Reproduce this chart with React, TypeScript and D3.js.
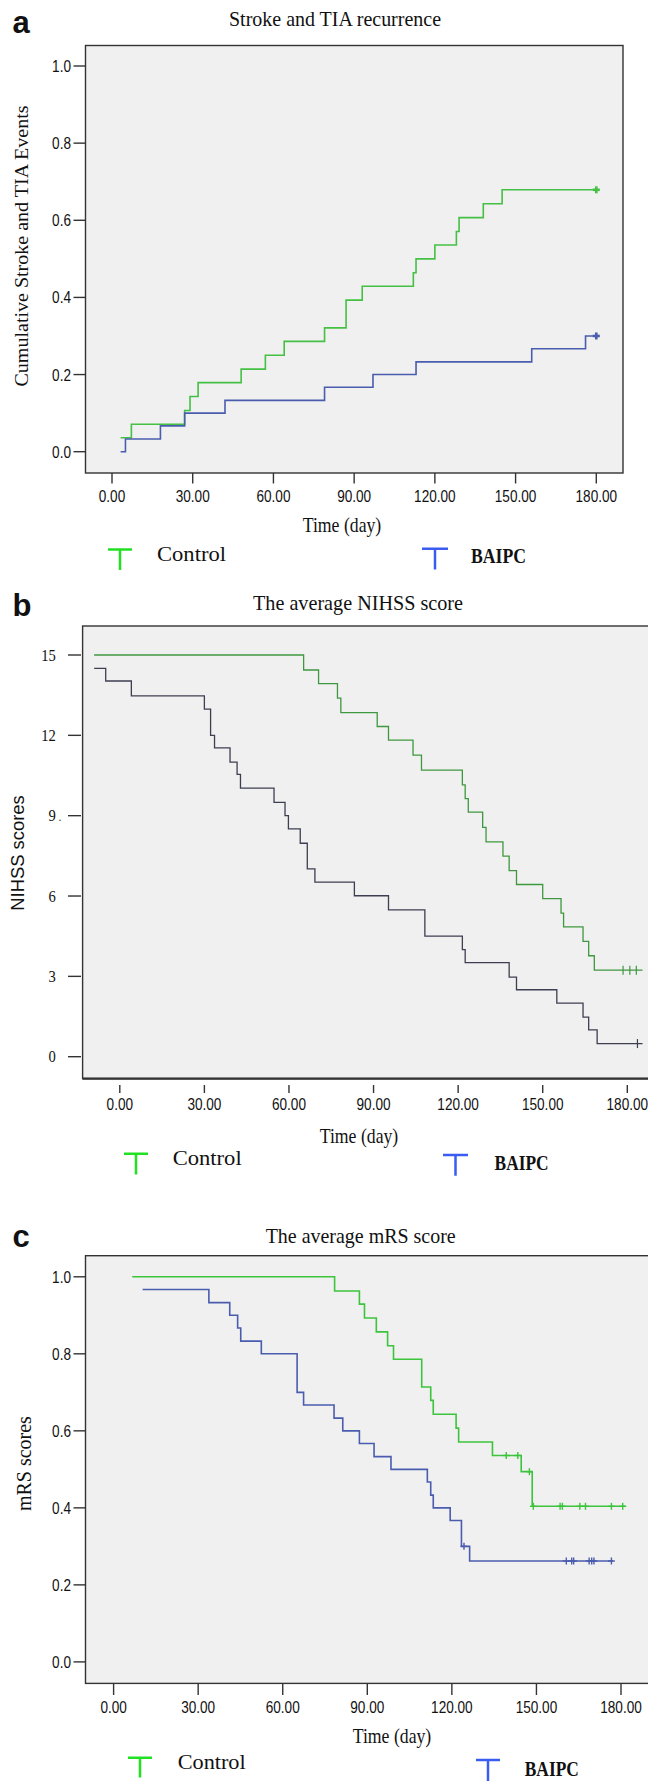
import React from 'react';
import * as d3 from 'd3';

// ---- panel a : Stroke and TIA recurrence (cumulative events) ----
const aTicksY = [0, 0.2, 0.4, 0.6, 0.8, 1.0];
const aControlDays = [3.2, 7.2, 27, 29, 32, 48, 57, 64, 79, 87, 93, 112, 113, 120, 128, 129, 138, 145];
const aControlVals = [0.036, 0.071, 0.107, 0.143, 0.179, 0.214, 0.25, 0.286, 0.321, 0.393, 0.429, 0.464, 0.5, 0.536, 0.571, 0.607, 0.643, 0.679];
const aControlCensor = [180];
const aBaipcDays = [3.2, 5, 18, 27, 42, 79, 97, 113, 156, 176];
const aBaipcVals = [0, 0.033, 0.067, 0.1, 0.133, 0.167, 0.2, 0.233, 0.267, 0.3];
const aBaipcCensor = [180];

// ---- panel b : The average NIHSS score ----
const bTicksY = [0, 3, 6, 9, 12, 15];
const bControlDays = [-9.1, 65.2, 70.5, 77.2, 78.4, 91.3, 95.3, 104, 107, 121.5, 122.5, 123.6, 128.7, 129.9, 135.9, 138.1, 140.7, 150, 156.5, 157.4, 164.3, 166.3, 168.3];
const bControlVals = [15, 14.44, 13.93, 13.39, 12.85, 12.33, 11.82, 11.26, 10.7, 10.15, 9.64, 9.13, 8.56, 8.02, 7.49, 6.95, 6.43, 5.9, 5.36, 4.85, 4.31, 3.77, 3.23];
const bControlCensor = [178.5, 180.9, 183.2];
const bBaipcDays = [-9.1, -5, 4.1, 30, 32.2, 33.6, 39.1, 41.6, 42.8, 54.7, 58.6, 59.8, 64, 66.5, 69.2, 83.2, 95.3, 108.2, 121.5, 122.5, 138.1, 140.7, 155, 164.3, 166.3, 169.3];
const bBaipcVals = [14.5, 14.03, 13.47, 12.98, 12.0, 11.53, 11.0, 10.54, 10.03, 9.5, 9.0, 8.51, 7.97, 7.01, 6.52, 6.01, 5.48, 4.5, 4.0, 3.51, 2.97, 2.5, 2.0, 1.48, 1.0, 0.49];
const bBaipcCensor = [183.6];

// ---- panel c : The average mRS score ----
const cTicksY = [0, 0.2, 0.4, 0.6, 0.8, 1.0];
const cControlDays = [6.6, 78.4, 87.2, 89, 93.2, 97.2, 99.3, 109.3, 112.5, 113.4, 121.5, 122.4, 134.4, 144.6, 148.5];
const cControlVals = [1.0, 0.963, 0.929, 0.893, 0.857, 0.821, 0.786, 0.714, 0.679, 0.643, 0.607, 0.571, 0.536, 0.494, 0.404];
const cControlCensor = [139.3, 143.4, 147.5, 148.9, 158.4, 159.2, 165.4, 167.4, 176.6, 180.6];
const cBaipcDays = [10.3, 33.8, 41.2, 44, 45.1, 52.4, 65.1, 67.4, 78.2, 81.3, 87.2, 92.4, 98.4, 111.3, 112.5, 113.4, 119.4, 123.4, 126.3];
const cBaipcVals = [0.967, 0.933, 0.9, 0.867, 0.833, 0.8, 0.7, 0.667, 0.633, 0.6, 0.567, 0.533, 0.5, 0.467, 0.433, 0.4, 0.367, 0.3, 0.262];
const cBaipcCensor = [124.3, 160.6, 162.5, 163.2, 168.7, 169.6, 170.4, 176.6];

const xTicks = [0, 30, 60, 90, 120, 150, 180];
const legendNames = ['Control', 'BAIPC'];

const SANS = '"Liberation Sans", Arial, sans-serif';
const SERIF = '"Liberation Serif", "Times New Roman", serif';

function stepValue(days, vals, t) {
  let v = vals[0];
  days.forEach((d, i) => { if (d <= t) v = vals[i]; });
  return v;
}

function Panel({ cfg }) {
  const x = d3.scaleLinear().domain([0, 180]).range(cfg.xRange);
  const y = d3.scaleLinear().domain(cfg.yDomain).range(cfg.yRange);
  const line = d3.line().x(d => x(d[0])).y(d => y(d[1])).curve(d3.curveStepAfter);
  const f = cfg.frame;

  return (
    <g>
      <text x={12.4} y={cfg.letterY} fontFamily={SANS} fontWeight="bold" fontSize={31} fill="#111">{cfg.letter}</text>
      <text x={cfg.title.x} y={cfg.title.y} textAnchor="middle" fontFamily={SERIF} fontSize={21}
        textLength={cfg.title.w} lengthAdjust="spacingAndGlyphs" fill="#111">{cfg.title.text}</text>

      <rect x={f.l} y={f.t} width={f.r - f.l} height={f.b - f.t} fill="#f0f0f0" stroke="#333" strokeWidth={1.4} />
      {cfg.thickBottom && <line x1={f.l} x2={f.r} y1={f.b} y2={f.b} stroke="#333" strokeWidth={2.4} />}

      {/* y axis */}
      {cfg.yTicks.map(t => (
        <g key={'y' + t}>
          <line x1={cfg.yTickX[0]} x2={cfg.yTickX[1]} y1={y(t)} y2={y(t)} stroke="#333" strokeWidth={1.4} />
          <text transform={`translate(${cfg.yLabelX},${y(t) + cfg.yLabelDy}) scale(${cfg.yLabelSx},1)`}
            textAnchor="end" fontFamily={cfg.yLabelFont} fontSize={17} fill="#111">
            {cfg.yFormat(t)}
          </text>
        </g>
      ))}
      {cfg.stray && <text x={cfg.stray.x} y={cfg.stray.y} fontFamily={SERIF} fontSize={12} fill="#444">.</text>}

      {/* x axis */}
      {xTicks.map(t => (
        <g key={'x' + t}>
          <line x1={x(t)} x2={x(t)} y1={cfg.xTickY[0]} y2={cfg.xTickY[1]} stroke="#333" strokeWidth={1.4} />
          <text transform={`translate(${x(t)},${cfg.xLabelY}) scale(0.8,1)`} textAnchor="middle"
            fontFamily={SANS} fontSize={17} fill="#111">{d3.format('.2f')(t)}</text>
        </g>
      ))}
      <text x={cfg.xTitle.x} y={cfg.xTitle.y} textAnchor="middle" fontFamily={SERIF} fontSize={21}
        textLength={78.5} lengthAdjust="spacingAndGlyphs" fill="#111">Time (day)</text>
      <text transform={`translate(${cfg.yTitle.x},${cfg.yTitle.y}) rotate(-90)`} textAnchor="middle"
        fontFamily={cfg.yTitle.font} fontSize={cfg.yTitle.size} textLength={cfg.yTitle.w}
        lengthAdjust="spacingAndGlyphs" fill="#111">{cfg.yTitle.text}</text>

      {/* survival steps */}
      {cfg.series.map((s, i) => {
        const pts = s.days.map((d, k) => [d, s.vals[k]]);
        pts.push([s.end, s.vals[s.vals.length - 1]]);
        return (
          <g key={'s' + i}>
            <path d={line(pts)} fill="none" stroke={s.color} strokeWidth={s.width} />
            {s.censor.map((c, k) => {
              const cx = x(c), cy = y(stepValue(s.days, s.vals, c));
              if (cfg.censorStyle === 'tick')
                return <line key={k} x1={cx} x2={cx} y1={cy - 4.5} y2={cy + 4.5} stroke={s.color} strokeWidth={1.2} />;
              const r = 3.5;
              const w = cfg.censorStyle === 'bold' ? 2.6 : 1.4;
              return (
                <g key={k} stroke={s.color} strokeWidth={w}>
                  <line x1={cx - r} x2={cx + r} y1={cy} y2={cy} />
                  <line x1={cx} x2={cx} y1={cy - r} y2={cy + r} />
                </g>
              );
            })}
          </g>
        );
      })}

      {/* legend */}
      {cfg.legend.map((l, i) => (
        <g key={'l' + i}>
          <path d={`M${l.x1},${l.top}H${l.x2}M${(l.x1 + l.x2) / 2},${l.top}V${l.bottom}`} fill="none"
            stroke={i === 0 ? '#22e022' : '#3a5cf0'} strokeWidth={2.5} />
          <text x={l.tx} y={l.ty} fontFamily={SERIF} fontSize={i === 0 ? 22 : 20} fontWeight={i === 0 ? 'normal' : 'bold'}
            textLength={l.tw} lengthAdjust="spacingAndGlyphs" fill="#111">{legendNames[i]}</text>
        </g>
      ))}
    </g>
  );
}

const fmt1 = d3.format('.1f');

const panels = [
  {
    letter: 'a', letterY: 33,
    title: { text: 'Stroke and TIA recurrence', x: 335, y: 25.6, w: 212 },
    frame: { l: 85.5, t: 45.5, r: 623, b: 473 },
    xRange: [112, 596.3], yDomain: [0, 1], yRange: [451.7, 66],
    yTicks: aTicksY, yFormat: fmt1, yTickX: [73.5, 85.5], yLabelX: 71, yLabelDy: 6, yLabelSx: 0.8, yLabelFont: SANS,
    xTickY: [473, 483.5], xLabelY: 502,
    xTitle: { x: 342, y: 532 },
    yTitle: { text: 'Cumulative Stroke and TIA Events', x: 28, y: 246, w: 281, size: 19, font: SERIF },
    censorStyle: 'bold',
    series: [
      { days: aControlDays, vals: aControlVals, end: 180, censor: aControlCensor, color: '#44c044', width: 1.6 },
      { days: aBaipcDays, vals: aBaipcVals, end: 180, censor: aBaipcCensor, color: '#4a5cae', width: 1.6 },
    ],
    legend: [
      { x1: 108, x2: 132, top: 549.6, bottom: 570, tx: 157, ty: 561, tw: 69 },
      { x1: 422, x2: 448, top: 548.8, bottom: 569.5, tx: 471, ty: 563, tw: 55 },
    ],
  },
  {
    letter: 'b', letterY: 615.8,
    title: { text: 'The average NIHSS score', x: 358, y: 610.4, w: 210 },
    frame: { l: 82.6, t: 626, r: 652, b: 1078.6 }, thickBottom: true,
    xRange: [119.8, 627.3], yDomain: [0, 15], yRange: [1056.7, 655],
    yTicks: bTicksY, yFormat: d => String(d), yTickX: [68, 81], yLabelX: 55.8, yLabelDy: 5.5, yLabelSx: 0.86, yLabelFont: SERIF,
    stray: { x: 58.5, y: 821 },
    xTickY: [1085, 1093], xLabelY: 1109.6,
    xTitle: { x: 359, y: 1142.6 },
    yTitle: { text: 'NIHSS scores', x: 23.6, y: 853, w: 115.5, size: 18.4, font: SANS },
    censorStyle: 'tick',
    series: [
      { days: bControlDays, vals: bControlVals, end: 185.4, censor: bControlCensor, color: '#3f983f', width: 1.3 },
      { days: bBaipcDays, vals: bBaipcVals, end: 185.4, censor: bBaipcCensor, color: '#3e3e52', width: 1.3 },
    ],
    legend: [
      { x1: 124, x2: 148, top: 1153.8, bottom: 1174.5, tx: 172.7, ty: 1164.5, tw: 69 },
      { x1: 443, x2: 468, top: 1155, bottom: 1175.7, tx: 494.6, ty: 1169.5, tw: 54 },
    ],
  },
  {
    letter: 'c', letterY: 1246.6,
    title: { text: 'The average mRS score', x: 360.7, y: 1242.5, w: 190 },
    frame: { l: 85.5, t: 1255.7, r: 652, b: 1683.4 },
    xRange: [113.6, 621], yDomain: [0, 1], yRange: [1661.9, 1276.8],
    yTicks: cTicksY, yFormat: fmt1, yTickX: [73.5, 85.5], yLabelX: 71, yLabelDy: 6, yLabelSx: 0.8, yLabelFont: SANS,
    xTickY: [1683.4, 1695], xLabelY: 1712.8,
    xTitle: { x: 392, y: 1742.5 },
    yTitle: { text: 'mRS scores', x: 31, y: 1463.6, w: 95, size: 20, font: SERIF },
    censorStyle: 'plus',
    series: [
      { days: cControlDays, vals: cControlVals, end: 181.6, censor: cControlCensor, color: '#3cc43c', width: 1.6 },
      { days: cBaipcDays, vals: cBaipcVals, end: 177.2, censor: cBaipcCensor, color: '#4a5cae', width: 1.6 },
    ],
    legend: [
      { x1: 128, x2: 152, top: 1757.8, bottom: 1777.6, tx: 177.7, ty: 1768.5, tw: 68 },
      { x1: 476, x2: 500, top: 1760, bottom: 1781, tx: 524.8, ty: 1776.4, tw: 54 },
    ],
  },
];

export default function App() {
  return (
    <div style={{ position: 'absolute', left: 0, top: 0 }}>
      <svg width={648} height={1781} style={{ display: 'block', background: '#fff' }}>
        {panels.map(p => <Panel key={p.letter} cfg={p} />)}
      </svg>
    </div>
  );
}
